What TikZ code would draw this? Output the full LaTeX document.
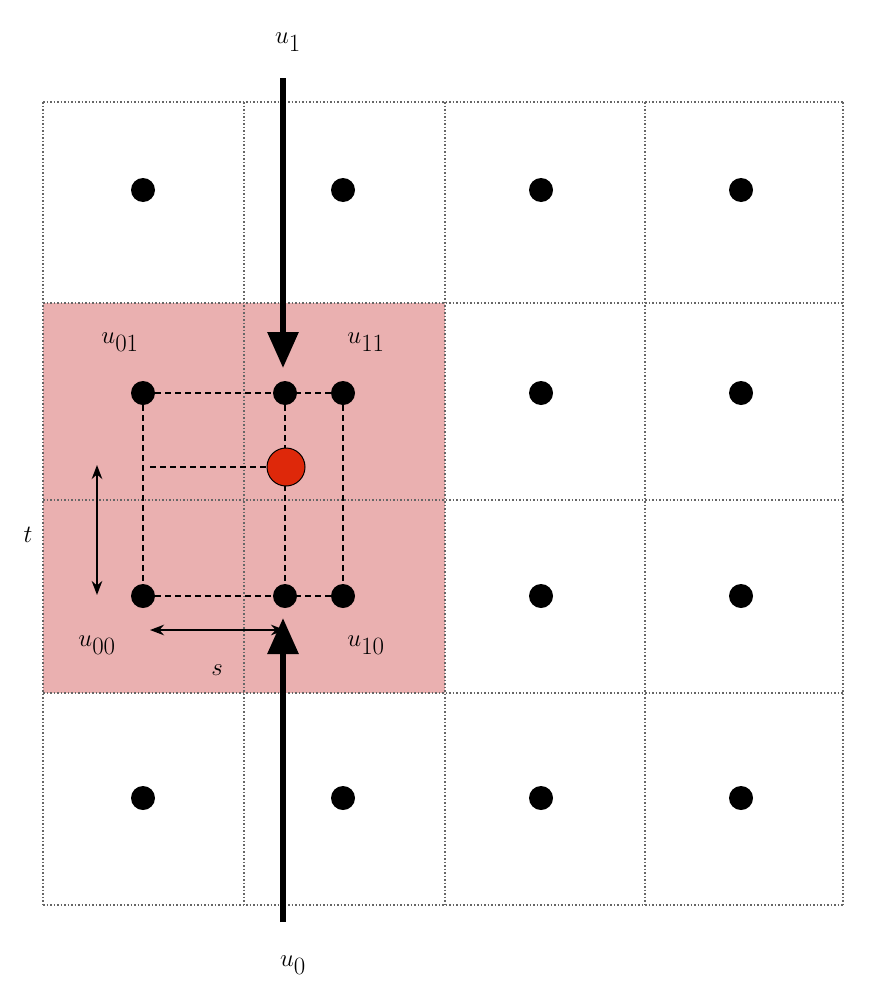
\documentclass[tikz,border=0pt]{standalone}
\usetikzlibrary{arrows.meta}
\begin{document}
\begin{tikzpicture}[x=1pt,y=-1pt,
  dot/.style={circle,fill=black,inner sep=0pt,minimum size=24pt},
  lbl/.style={font=\fontsize{44}{50}\selectfont},
  big/.style={line width=6pt,-{Triangle[length=36pt,width=30pt]}},
  dsh/.style={dashed,line width=1.6pt,dash pattern=on 6pt off 4pt}]
\useasboundingbox (0,0) rectangle (871,993);
\fill[red!60!black!40!white,fill=red!30!white!90!black] (43,303) rectangle (445,693);
\fill[fill={rgb,255:red,234;green,176;blue,176}] (43,303) rectangle (445,693);
\foreach \x in {43,244,445,645,843} \draw[gray!80!black,dotted,line width=1.5pt] (\x,102) -- (\x,905);
\foreach \y in {102,303,500,693,905} \draw[gray!80!black,dotted,line width=1.5pt] (43,\y) -- (843,\y);
\foreach \x in {143,343,541,741} \foreach \y in {190,798} \node[dot] at (\x,\y) {};
\foreach \x in {541,741} \foreach \y in {393,596} \node[dot] at (\x,\y) {};
\node[dot] (a01) at (143,393) {}; \node[dot] (am1) at (285,393) {}; \node[dot] (a11) at (343,393) {};
\node[dot] (a00) at (143,596) {}; \node[dot] (am0) at (285,596) {}; \node[dot] (a10) at (343,596) {};
\draw[dsh] (a01) -- (a11) (a00) -- (a10) (a01) -- (a00) (am1) -- (am0) (a11) -- (a10);
\draw[dsh] (150,467) -- (286,467);
\node[circle,draw=black,line width=1pt,fill={rgb,255:red,222;green,40;blue,10},minimum size=38pt,inner sep=0pt] (r) at (286,467) {};
\draw[line width=2.5pt,{Stealth[length=14pt]}-{Stealth[length=14pt]}] (97,465) -- (97,595);
\draw[line width=2.5pt,{Stealth[length=14pt]}-{Stealth[length=14pt]}] (150,630) -- (285,630);
\coordinate (t1) at (283,78); \coordinate (b1) at (283,922);
\draw[big] (t1) -- (283,368);
\draw[big] (b1) -- (283,618);
\node[lbl] at (288,42) {$u_1$};
\node[lbl] at (293,965) {$u_0$};
\node[lbl] at (120,342) {$u_{01}$};
\node[lbl] at (366,342) {$u_{11}$};
\node[lbl] at (97,645) {$u_{00}$};
\node[lbl] at (366,645) {$u_{10}$};
\node[lbl] at (28,535) {$t$};
\node[lbl] at (217,670) {$s$};
\end{tikzpicture}
\end{document}
